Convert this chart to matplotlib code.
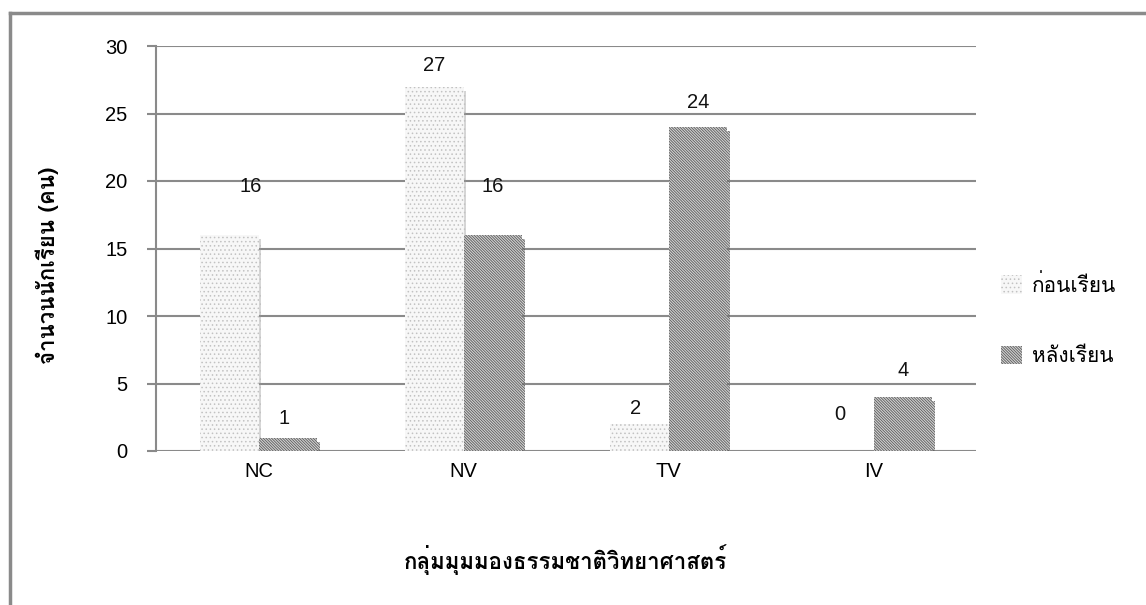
import matplotlib
matplotlib.use("Agg")
import matplotlib.pyplot as plt
import matplotlib.patheffects as pe
from matplotlib import font_manager
from matplotlib.ft2font import FT2Font
from matplotlib.lines import Line2D
from matplotlib.patches import Patch
import numpy as np

# Data
categories = ["NC", "NV", "TV", "IV"]
before_values = [16, 27, 2, 0]
after_values = [1, 16, 24, 4]
series_names = ["ก่อนเรียน", "หลังเรียน"]
y_ticks = [0, 5, 10, 15, 20, 25, 30]
x_title = "กลุ่มมุมมองธรรมชาติวิทยาศาสตร์"
y_title = "จำนวนนักเรียน (คน)"

# Hand-placed value label offsets (pixels from the bar top centre)
before_label_offsets = [(21, 49), (0, 21), (-4, 16), (-4, 36)]
after_label_offsets = [(-4, 19), (0, 49), (0, 25), (0, 27)]


def thai_families():
    found = []
    for f in font_manager.fontManager.ttflist:
        if f.name in found:
            continue
        try:
            cmap = FT2Font(f.fname).get_charmap()
        except Exception:
            continue
        if 0x0E01 in cmap and 0x0E40 in cmap:
            found.append(f.name)
    return found


thai = thai_families()
latin_fams = ["Liberation Sans", "DejaVu Sans"]
thai_fams = thai + ["DejaVu Sans"]
plt.rcParams["font.family"] = latin_fams
plt.rcParams["hatch.linewidth"] = 0.6

fig = plt.figure(figsize=(11.46, 6.05), dpi=100)
W, H = 1146, 605
ax = fig.add_axes([156 / W, (H - 451) / H, (976 - 156) / W, (451 - 46) / H])

x = np.arange(len(categories))
bw = 0.285
before_style = dict(facecolor="#f7f7f7", edgecolor="#c2c2c2", hatch="....", linewidth=0)
after_style = dict(facecolor="#d2d2d2", edgecolor="#5a5a5a", hatch="\\" * 12, linewidth=0)
shadow = [pe.SimplePatchShadow(offset=(2, -3), shadow_rgbFace="#999999", alpha=0.4), pe.Normal()]

b1 = ax.bar(x - bw / 2, before_values, bw, zorder=3, **before_style)
b2 = ax.bar(x + bw / 2, after_values, bw, zorder=3, **after_style)
for bars in (b1, b2):
    for r in bars:
        if r.get_height() > 0:
            r.set_path_effects(shadow)

for bars, vals, offs in ((b1, before_values, before_label_offsets),
                         (b2, after_values, after_label_offsets)):
    for r, v, (dx, dy) in zip(bars, vals, offs):
        ax.annotate(str(v), (r.get_x() + r.get_width() / 2, v), xytext=(dx, dy),
                    textcoords="offset pixels", ha="center", va="center",
                    fontsize=14.5, color="#111111", zorder=5)

ax.set_xlim(-0.5, len(categories) - 0.5)
ax.set_ylim(0, 30)
ax.set_yticks(y_ticks)
ax.set_xticks(x)
ax.set_xticklabels(categories)
ax.tick_params(axis="y", length=6.5, width=1.5, color="#8a8a8a", labelsize=14.5, pad=14)
ax.tick_params(axis="x", length=0, labelsize=14.5, pad=8)
ax.yaxis.grid(True, color="#8a8a8a", linewidth=1.5, zorder=0)
ax.set_axisbelow(True)
for s in ("top", "right", "bottom"):
    ax.spines[s].set_visible(False)
ax.spines["left"].set_color("#8a8a8a")
ax.spines["left"].set_linewidth(1.5)

fig.text(565 / W, 1 - 560 / H, x_title, ha="center", va="center",
         fontsize=16, fontweight="bold", family=thai_fams)
fig.text(47 / W, 1 - 265 / H, y_title, rotation=90, ha="center", va="center",
         fontsize=16, fontweight="bold", family=thai_fams)

handles = [Patch(**before_style), Patch(**after_style)]
fig.legend(handles, series_names, loc="center left", bbox_to_anchor=(982 / W, 1 - 320 / H),
           frameon=False, prop={"family": thai_fams, "size": 15}, handlelength=1.0,
           handleheight=1.0, handletextpad=0.5, labelspacing=2.4)

# Outer frame (top and left edges)
fig.add_artist(Line2D([10 / W, 1], [1 - 13 / H, 1 - 13 / H], color="#8a8a8a", linewidth=2.5,
                      transform=fig.transFigure))
fig.add_artist(Line2D([10 / W, 10 / W], [0, 1 - 13 / H], color="#8a8a8a", linewidth=2.5,
                      transform=fig.transFigure))

fig.savefig("out.png", dpi=100)
